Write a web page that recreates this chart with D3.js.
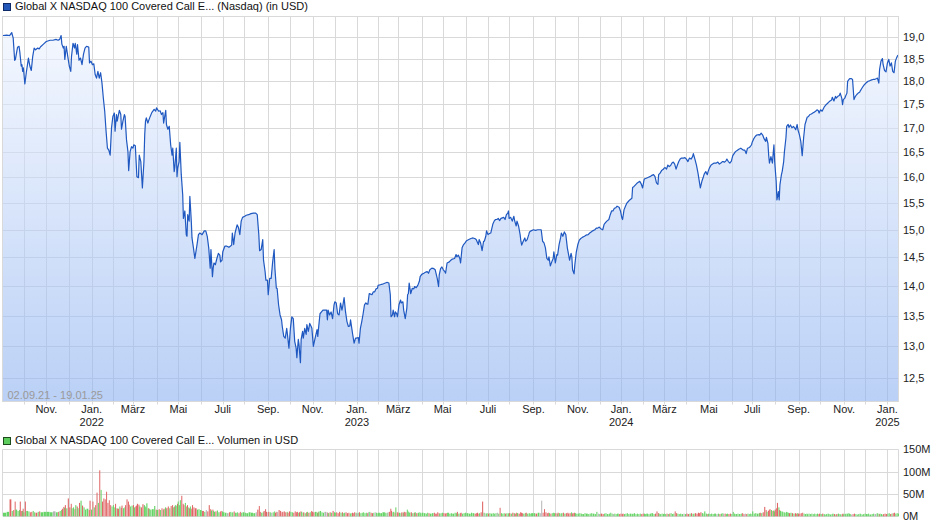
<!DOCTYPE html>
<html><head><meta charset="utf-8">
<script src="https://cdn.jsdelivr.net/npm/d3@7"></script>
<style>
body{margin:0;background:#fff;}
svg{display:block;font-family:"Liberation Sans",Arial,sans-serif;}
</style></head><body>
<svg id="c" width="940" height="526"></svg>
<script>
// ---------------- DATA ----------------
const titleMain = "Global X NASDAQ 100 Covered Call E... (Nasdaq) (in USD)";
const titleVolume = "Global X NASDAQ 100 Covered Call E... Volumen in USD";
const rangeLabel = "02.09.21 - 19.01.25";
const priceTicks = [12.5,13,13.5,14,14.5,15,15.5,16,16.5,17,17.5,18,18.5,19];
const volumeTicks = [0,50,100,150];
const monthNames = ["Jan.","Feb.","März","Apr.","Mai","Juni","Juli","Aug.","Sep.","Okt.","Nov.","Dez."];
const labelledMonths = [0,2,4,6,8,10];
const marketHolidays = ["2021-09-06","2021-11-25","2021-12-24","2022-01-17","2022-02-21","2022-04-15","2022-05-30","2022-06-20","2022-07-04","2022-09-05","2022-11-24","2022-12-26","2023-01-02","2023-01-16","2023-02-20","2023-04-07","2023-05-29","2023-06-19","2023-07-04","2023-09-04","2023-11-23","2023-12-25","2024-01-01","2024-01-15","2024-02-19","2024-03-29","2024-05-27","2024-06-19","2024-07-04","2024-09-02","2024-11-28","2024-12-25","2025-01-01","2025-01-09"];
const firstDay = "2021-09-02", lastDay = "2025-01-17";

const priceDates = [
"2021-09-02","2021-09-07","2021-09-11","2021-09-14","2021-09-16","2021-09-18","2021-09-19","2021-09-22","2021-09-24","2021-09-25","2021-09-27","2021-09-28","2021-09-29","2021-09-30",
"2021-10-02","2021-10-04","2021-10-07","2021-10-09","2021-10-11","2021-10-13","2021-10-15","2021-10-17","2021-10-20","2021-10-22","2021-10-24","2021-10-28",
"2021-11-01","2021-11-06","2021-11-10","2021-11-14","2021-11-17","2021-11-19","2021-11-21","2021-11-22","2021-11-24","2021-11-25","2021-11-26","2021-11-28","2021-11-30",
"2021-12-02","2021-12-04","2021-12-05","2021-12-07","2021-12-09","2021-12-10","2021-12-12","2021-12-13","2021-12-15","2021-12-17","2021-12-19","2021-12-21","2021-12-23","2021-12-25","2021-12-28","2021-12-29","2021-12-31",
"2022-01-02","2022-01-04","2022-01-06","2022-01-08","2022-01-10","2022-01-12","2022-01-14","2022-01-16","2022-01-18","2022-01-20","2022-01-22","2022-01-24","2022-01-26","2022-01-28","2022-01-30",
"2022-02-01","2022-02-03","2022-02-04","2022-02-06","2022-02-07","2022-02-10","2022-02-12","2022-02-13","2022-02-15","2022-02-17","2022-02-18","2022-02-20","2022-02-22","2022-02-23","2022-02-25","2022-02-27",
"2022-03-01","2022-03-02","2022-03-04","2022-03-05","2022-03-06","2022-03-08","2022-03-09","2022-03-11","2022-03-13","2022-03-15","2022-03-16","2022-03-17","2022-03-18","2022-03-20","2022-03-21","2022-03-23","2022-03-25","2022-03-28","2022-03-30","2022-03-31",
"2022-04-03","2022-04-05","2022-04-07","2022-04-09","2022-04-10","2022-04-12","2022-04-13","2022-04-14","2022-04-16","2022-04-18","2022-04-20","2022-04-22","2022-04-23","2022-04-25","2022-04-26","2022-04-28","2022-04-29","2022-04-30",
"2022-05-02","2022-05-03","2022-05-05","2022-05-07","2022-05-08","2022-05-10","2022-05-12","2022-05-13","2022-05-14","2022-05-16","2022-05-17","2022-05-19","2022-05-20","2022-05-22","2022-05-24","2022-05-27","2022-05-29","2022-05-31",
"2022-06-03","2022-06-06","2022-06-08","2022-06-10","2022-06-12","2022-06-14","2022-06-15","2022-06-17","2022-06-18","2022-06-19","2022-06-21","2022-06-23","2022-06-25","2022-06-27","2022-06-28","2022-06-30",
"2022-07-01","2022-07-04","2022-07-07","2022-07-10","2022-07-12","2022-07-14","2022-07-15","2022-07-17","2022-07-19","2022-07-22","2022-07-24","2022-07-26","2022-07-28","2022-07-30",
"2022-08-02","2022-08-04","2022-08-07","2022-08-10","2022-08-13","2022-08-16","2022-08-18","2022-08-20","2022-08-21","2022-08-23","2022-08-25","2022-08-26","2022-08-28","2022-08-29","2022-08-31",
"2022-09-01","2022-09-03","2022-09-05","2022-09-07","2022-09-09","2022-09-10","2022-09-12","2022-09-13","2022-09-15","2022-09-17","2022-09-19","2022-09-20","2022-09-22","2022-09-24","2022-09-26","2022-09-27","2022-09-29",
"2022-10-01","2022-10-03","2022-10-05","2022-10-07","2022-10-09","2022-10-10","2022-10-12","2022-10-13","2022-10-15","2022-10-16","2022-10-18","2022-10-19","2022-10-21","2022-10-23","2022-10-24","2022-10-26","2022-10-28","2022-10-30","2022-10-31",
"2022-11-02","2022-11-04","2022-11-07","2022-11-08","2022-11-09","2022-11-11","2022-11-13","2022-11-15","2022-11-17","2022-11-20","2022-11-21","2022-11-22","2022-11-24","2022-11-26","2022-11-28","2022-11-30",
"2022-12-01","2022-12-03","2022-12-05","2022-12-07","2022-12-09","2022-12-11","2022-12-12","2022-12-14","2022-12-16","2022-12-18","2022-12-20","2022-12-22","2022-12-23","2022-12-25","2022-12-26","2022-12-28","2022-12-30","2022-12-31",
"2023-01-03","2023-01-04","2023-01-06","2023-01-08","2023-01-10","2023-01-12","2023-01-14","2023-01-16","2023-01-17","2023-01-19","2023-01-21","2023-01-23","2023-01-25","2023-01-27","2023-01-29","2023-01-31",
"2023-02-01","2023-02-04","2023-02-07","2023-02-11","2023-02-13","2023-02-14","2023-02-16","2023-02-18","2023-02-19","2023-02-21","2023-02-22","2023-02-24","2023-02-25","2023-02-27","2023-02-28",
"2023-03-02","2023-03-04","2023-03-05","2023-03-07","2023-03-08","2023-03-10","2023-03-12","2023-03-13","2023-03-14","2023-03-15","2023-03-17","2023-03-19","2023-03-21","2023-03-22","2023-03-24","2023-03-26","2023-03-28","2023-03-29","2023-03-31",
"2023-04-03","2023-04-06","2023-04-08","2023-04-10","2023-04-12","2023-04-15","2023-04-18","2023-04-20","2023-04-23","2023-04-25","2023-04-26","2023-04-28","2023-04-30",
"2023-05-02","2023-05-04","2023-05-05","2023-05-07","2023-05-10","2023-05-12","2023-05-14","2023-05-17","2023-05-19","2023-05-20","2023-05-22","2023-05-24","2023-05-25","2023-05-27","2023-05-29","2023-05-31",
"2023-06-02","2023-06-05","2023-06-08","2023-06-10","2023-06-13","2023-06-15","2023-06-16","2023-06-18","2023-06-19","2023-06-21","2023-06-23","2023-06-25","2023-06-26","2023-06-28","2023-06-29",
"2023-07-01","2023-07-03","2023-07-05","2023-07-08","2023-07-10","2023-07-12","2023-07-14","2023-07-16","2023-07-18","2023-07-20","2023-07-22","2023-07-24","2023-07-26","2023-07-28","2023-07-30","2023-07-31",
"2023-08-01","2023-08-03","2023-08-05","2023-08-07","2023-08-08","2023-08-10","2023-08-11","2023-08-13","2023-08-15","2023-08-16","2023-08-17","2023-08-19","2023-08-21","2023-08-22","2023-08-24","2023-08-26","2023-08-27","2023-08-29",
"2023-09-01","2023-09-04","2023-09-07","2023-09-10","2023-09-12","2023-09-14","2023-09-16","2023-09-18","2023-09-20","2023-09-22","2023-09-23","2023-09-25","2023-09-27","2023-09-29","2023-09-30",
"2023-10-02","2023-10-04","2023-10-05","2023-10-07","2023-10-09","2023-10-10","2023-10-12","2023-10-14","2023-10-16","2023-10-18","2023-10-19","2023-10-21","2023-10-23","2023-10-24","2023-10-25","2023-10-27","2023-10-28","2023-10-30",
"2023-11-01","2023-11-03","2023-11-05","2023-11-07","2023-11-10","2023-11-12","2023-11-15","2023-11-17","2023-11-19","2023-11-21","2023-11-24","2023-11-26","2023-11-28","2023-11-30",
"2023-12-02","2023-12-05","2023-12-07","2023-12-09","2023-12-11","2023-12-14","2023-12-16","2023-12-18","2023-12-20","2023-12-22","2023-12-24","2023-12-26","2023-12-29","2023-12-31",
"2024-01-02","2024-01-03","2024-01-05","2024-01-07","2024-01-09","2024-01-11","2024-01-13","2024-01-16","2024-01-17","2024-01-19","2024-01-21","2024-01-23","2024-01-25","2024-01-27","2024-01-29","2024-01-31",
"2024-02-02","2024-02-03","2024-02-05","2024-02-08","2024-02-10","2024-02-12","2024-02-15","2024-02-17","2024-02-19","2024-02-21","2024-02-22","2024-02-24","2024-02-26","2024-02-28","2024-02-29",
"2024-03-02","2024-03-04","2024-03-06","2024-03-08","2024-03-10","2024-03-12","2024-03-14","2024-03-16","2024-03-18","2024-03-20","2024-03-22","2024-03-24","2024-03-26","2024-03-29","2024-03-31",
"2024-04-02","2024-04-04","2024-04-06","2024-04-08","2024-04-10","2024-04-11","2024-04-13","2024-04-15","2024-04-17","2024-04-18","2024-04-20","2024-04-22","2024-04-24","2024-04-25","2024-04-27","2024-04-29","2024-04-30",
"2024-05-02","2024-05-04","2024-05-06","2024-05-08","2024-05-11","2024-05-13","2024-05-15","2024-05-17","2024-05-19","2024-05-20","2024-05-22","2024-05-24","2024-05-25","2024-05-27","2024-05-29","2024-05-31",
"2024-06-02","2024-06-04","2024-06-06","2024-06-09","2024-06-11","2024-06-14","2024-06-16","2024-06-18","2024-06-20","2024-06-22","2024-06-24","2024-06-26","2024-06-28","2024-06-30",
"2024-07-01","2024-07-03","2024-07-05","2024-07-07","2024-07-10","2024-07-11","2024-07-13","2024-07-15","2024-07-17","2024-07-19","2024-07-20","2024-07-22","2024-07-23","2024-07-24","2024-07-26","2024-07-28","2024-07-29","2024-07-30","2024-07-31",
"2024-08-02","2024-08-03","2024-08-05","2024-08-06","2024-08-07","2024-08-09","2024-08-10","2024-08-12","2024-08-13","2024-08-15","2024-08-16","2024-08-18","2024-08-19","2024-08-21","2024-08-23","2024-08-25","2024-08-27","2024-08-28","2024-08-30","2024-08-31",
"2024-09-02","2024-09-04","2024-09-06","2024-09-08","2024-09-10","2024-09-12","2024-09-13","2024-09-15","2024-09-17","2024-09-19","2024-09-21","2024-09-23","2024-09-25","2024-09-27","2024-09-29","2024-09-30",
"2024-10-02","2024-10-04","2024-10-06","2024-10-07","2024-10-09","2024-10-11","2024-10-12","2024-10-14","2024-10-16","2024-10-17","2024-10-19","2024-10-21","2024-10-22","2024-10-24","2024-10-26","2024-10-27","2024-10-29","2024-10-30","2024-10-31",
"2024-11-02","2024-11-03","2024-11-05","2024-11-06","2024-11-08","2024-11-09","2024-11-11","2024-11-13","2024-11-15","2024-11-17","2024-11-19","2024-11-21","2024-11-23","2024-11-24","2024-11-26","2024-11-28","2024-11-30",
"2024-12-02","2024-12-05","2024-12-07","2024-12-10","2024-12-12","2024-12-14","2024-12-17","2024-12-18","2024-12-20","2024-12-21","2024-12-23","2024-12-25","2024-12-26","2024-12-28","2024-12-30",
"2025-01-01","2025-01-03","2025-01-05","2025-01-07","2025-01-09","2025-01-11","2025-01-13","2025-01-15","2025-01-17"
];

const priceValues = [
19.04,19.05,19.04,19.11,18.98,18.47,18.49,18.77,18.79,18.67,18.34,18.37,18.22,18.30,
17.94,18.19,18.52,18.34,18.24,18.56,18.75,18.71,18.75,18.73,18.78,18.84,
18.90,18.93,18.93,18.95,18.93,18.95,19.04,18.84,18.75,18.79,18.49,18.79,18.56,
18.34,18.22,18.56,18.86,18.75,18.86,18.61,18.83,18.47,18.52,18.37,18.61,18.75,18.79,18.77,18.41,18.45,
18.37,18.39,18.15,18.07,18.22,18.07,18.19,17.96,17.63,17.35,16.93,16.58,16.54,16.44,17.00,
17.24,17.31,16.93,17.28,17.14,17.37,17.28,16.97,17.14,17.28,17.24,16.75,16.51,16.13,16.51,16.61,
16.58,16.65,16.63,16.31,16.01,15.99,16.44,16.31,15.79,16.31,16.86,17.14,17.21,17.10,17.15,17.24,17.32,17.39,17.35,17.42,
17.35,17.36,17.28,17.32,17.10,17.28,17.37,17.07,16.97,17.03,16.65,16.44,16.58,16.11,16.21,16.58,16.01,16.18,
16.31,16.70,16.05,15.66,15.21,15.35,14.91,14.88,15.28,15.16,15.63,15.16,14.85,14.67,14.48,14.73,14.91,14.94,
14.91,14.98,14.98,14.88,14.67,14.31,14.64,14.16,14.31,14.40,14.37,14.48,14.57,14.54,14.42,14.45,
14.60,14.70,14.70,14.68,14.70,14.72,14.94,14.73,14.94,15.09,15.04,14.91,15.16,15.23,
15.25,15.27,15.28,15.30,15.31,15.31,15.28,14.91,14.62,14.64,14.82,14.45,14.25,14.10,14.10,
13.85,14.13,14.13,14.42,14.64,14.31,13.96,13.96,13.68,13.51,13.43,13.32,13.16,13.13,13.29,13.19,12.97,
13.29,13.48,13.45,13.08,12.97,12.82,13.11,13.03,12.74,13.11,13.24,13.13,13.29,13.19,13.35,13.24,13.37,13.32,13.29,
13.00,13.11,13.27,13.16,13.29,13.53,13.56,13.59,13.59,13.59,13.43,13.59,13.51,13.56,13.45,13.68,
13.73,13.71,13.53,13.51,13.71,13.59,13.65,13.80,13.56,13.40,13.32,13.33,13.43,13.27,13.19,13.05,13.13,13.13,
13.14,13.05,13.29,13.40,13.53,13.68,13.71,13.69,13.69,13.87,13.86,13.85,13.90,13.90,13.95,13.96,
14.01,14.02,14.03,14.05,14.06,14.06,14.05,13.85,13.48,13.51,13.59,13.48,13.56,13.53,13.48,
13.68,13.76,13.71,13.73,13.59,13.45,13.62,13.85,13.87,14.05,13.87,13.96,13.95,13.99,13.97,14.01,14.08,14.16,14.20,
14.22,14.24,14.25,14.22,14.28,14.31,14.30,14.28,14.13,13.99,14.19,14.30,14.33,
14.28,14.25,14.22,14.40,14.42,14.45,14.47,14.48,14.55,14.51,14.54,14.48,14.40,14.67,14.73,14.76,
14.80,14.82,14.84,14.85,14.84,14.82,14.79,14.73,14.82,14.76,14.62,14.79,14.79,14.88,14.98,
14.91,14.93,14.94,15.10,15.16,15.19,15.19,15.21,15.17,15.21,15.22,15.23,15.19,15.28,15.31,15.35,
15.21,15.23,15.16,15.25,15.17,15.07,15.16,15.07,14.91,14.79,14.72,14.79,14.85,14.79,14.82,14.91,14.96,14.98,
15.00,14.99,15.00,15.00,15.00,14.79,14.76,14.67,14.48,14.45,14.51,14.35,14.42,14.48,14.60,
14.40,14.55,14.54,14.73,14.85,14.94,14.88,14.96,14.91,14.67,14.60,14.45,14.57,14.51,14.28,14.21,14.37,14.60,
14.73,14.81,14.84,14.86,14.88,14.90,14.91,14.94,14.96,14.98,15.00,15.03,15.03,15.05,
15.02,15.00,15.10,15.13,15.16,15.19,15.28,15.35,15.35,15.40,15.41,15.44,15.42,15.35,
15.22,15.19,15.37,15.44,15.50,15.53,15.56,15.59,15.80,15.82,15.85,15.88,15.90,15.92,15.87,15.79,
15.95,15.97,15.98,16.00,16.01,16.03,16.05,16.01,15.89,15.86,16.05,16.08,16.13,16.15,16.17,
16.19,16.16,16.24,16.21,16.23,16.28,16.30,16.26,16.16,16.24,16.31,16.36,16.38,16.38,16.39,
16.36,16.31,16.38,16.36,16.41,16.47,16.36,16.24,16.08,15.98,15.79,15.92,16.01,16.06,16.11,16.05,16.11,
16.19,16.24,16.26,16.28,16.28,16.30,16.26,16.28,16.31,16.31,16.30,16.33,16.36,16.31,16.28,16.32,
16.43,16.47,16.51,16.54,16.56,16.58,16.56,16.54,16.54,16.47,16.58,16.59,16.61,16.65,
16.70,16.77,16.82,16.85,16.86,16.85,16.89,16.85,16.77,16.72,16.80,16.68,16.44,16.28,16.41,16.28,16.47,16.65,16.31,
15.92,15.56,15.72,15.56,15.85,16.05,16.11,16.31,16.51,16.79,17.03,17.07,17.01,17.06,17.00,17.03,16.99,16.96,17.07,16.96,
16.86,16.72,16.43,16.79,17.07,17.17,17.22,17.24,17.28,17.29,17.31,17.33,17.35,17.38,17.36,17.31,
17.38,17.35,17.42,17.45,17.49,17.52,17.54,17.57,17.59,17.65,17.57,17.67,17.63,17.67,17.69,17.74,17.63,17.49,17.60,
17.63,17.67,17.74,18.00,18.04,18.06,18.06,18.04,17.60,17.67,17.71,17.74,17.76,17.79,17.84,17.89,17.93,
17.96,18.00,18.01,18.03,18.04,18.04,18.06,18.07,17.96,18.26,18.45,18.51,18.37,18.24,18.21,
18.41,18.49,18.34,18.41,18.22,18.19,18.45,18.53,18.59
];

// volume in million USD, one value per price date
const volumeValues = [
8,10,38,12,14,33,15,12,14,33,12,12,17,9,
33,12,11,9,10,12,9,8,10,11,9,10,
10,9,11,9,10,12,14,17,21,19,25,18,40,
20,28,18,20,16,25,22,18,30,35,24,20,15,17,14,35,15,
33,20,25,53,30,103,59,33,40,38,55,30,36,25,22,
25,20,28,18,17,22,19,24,18,20,25,38,33,26,22,24,
25,20,22,24,28,26,22,20,27,25,22,20,29,18,17,15,16,23,15,14,
16,14,18,15,17,20,16,19,22,18,23,25,20,22,25,24,28,33,
25,36,46,28,25,30,22,25,20,18,22,17,25,20,18,15,16,14,
12,10,14,11,25,16,13,15,12,10,11,13,9,10,12,11,
9,8,7,9,10,8,9,11,8,9,7,10,8,9,
8,7,9,8,7,9,15,23,10,8,9,12,16,10,9,
10,9,8,9,11,8,10,9,14,12,9,10,11,9,10,8,11,
10,9,8,11,9,10,8,9,11,10,8,9,7,9,10,8,9,12,10,
9,10,8,9,11,12,9,8,10,9,8,7,9,8,12,9,
8,9,7,10,8,9,7,8,9,7,8,6,7,8,7,9,8,7,
8,9,7,8,9,7,8,7,9,10,8,7,8,9,8,7,
8,7,9,8,7,9,10,17,12,9,10,8,20,9,8,
8,7,9,8,10,9,15,11,9,8,9,7,8,9,7,8,9,7,8,
7,6,8,7,6,7,8,6,9,7,6,7,8,
7,6,7,8,6,7,6,8,7,10,6,7,8,6,7,8,
7,6,8,7,6,7,8,6,7,9,33,8,7,6,7,
6,7,6,7,6,7,8,6,19,7,6,7,6,7,6,7,
7,6,8,7,6,8,7,6,9,8,7,6,7,8,6,7,6,7,
7,6,8,7,35,8,16,9,7,8,7,6,7,8,7,
7,6,8,7,6,7,8,6,7,8,6,7,9,6,7,8,7,6,
6,7,6,5,7,6,5,6,7,6,5,10,6,5,
6,5,6,7,5,6,8,6,5,6,5,6,5,6,
5,6,5,6,7,5,6,5,6,7,5,6,5,6,5,6,
6,5,6,5,6,7,5,6,11,7,6,5,6,5,6,
5,6,5,6,7,5,6,11,7,6,5,6,5,6,5,
6,5,6,7,5,6,7,6,8,7,9,7,6,11,6,5,6,
5,6,5,6,5,6,5,6,7,5,6,5,6,5,6,5,
10,6,5,6,5,6,7,5,6,5,6,5,6,5,
11,6,7,6,7,8,7,9,21,14,10,12,14,16,14,12,13,11,15,
18,30,20,14,12,11,10,9,8,10,9,8,7,8,7,6,7,6,7,6,
6,7,8,6,5,6,5,6,5,6,5,6,5,6,5,6,
5,6,5,4,5,6,5,4,5,6,5,4,5,6,5,4,5,6,5,
5,6,5,7,6,5,4,5,6,5,4,5,6,5,4,5,6,
5,6,4,5,6,5,7,6,5,6,5,4,5,6,5,
6,7,5,6,7,8,6,7,6
];

// ---------------- CHART ----------------
const parse = d3.utcParse("%Y-%m-%d");
const fmt = d3.utcFormat("%Y-%m-%d");
const n = Math.min(priceDates.length, priceValues.length, volumeValues.length);
const data = d3.range(n).map(i => ({date: parse(priceDates[i]), value: priceValues[i], vol: volumeValues[i]}));

const L = 3, R = 898;
const mainTop = 16.5, mainBottom = 401.5;
const volTop = 449.3, volBottom = 516.3;

const holidaySet = new Set(marketHolidays);
const start = parse(firstDay), end = parse(lastDay);
function tradingIndex(d) {
  let k = 0;
  for (let t = start; t < d; t = d3.utcDay.offset(t, 1)) {
    const wd = t.getUTCDay();
    if (wd !== 0 && wd !== 6 && !holidaySet.has(fmt(t))) k++;
  }
  return k;
}
const monthStarts = d3.utcMonths(parse("2021-10-01"), d3.utcDay.offset(end, 1));
const breakpoints = [start, ...monthStarts, end];
const idxScale = d3.scaleLinear().domain([0, tradingIndex(end)]).range([L, R]);
const x = d3.scaleUtc().domain(breakpoints).range(breakpoints.map(d => idxScale(tradingIndex(d))));

const y = d3.scaleLog().domain([12.148, 19.49]).range([mainBottom, mainTop]);
const yv = d3.scaleLinear().domain([0, 150]).range([volBottom, volTop]);

const svg = d3.select("#c");
const defs = svg.append("defs");
const grad = defs.append("linearGradient").attr("id", "ag")
  .attr("gradientUnits", "userSpaceOnUse").attr("x1", 0).attr("x2", 0)
  .attr("y1", mainTop).attr("y2", mainBottom);
grad.append("stop").attr("offset", 0).attr("stop-color", "rgb(240,245,255)");
grad.append("stop").attr("offset", 1).attr("stop-color", "rgb(140,177,240)");
defs.append("clipPath").attr("id", "clipMain").append("rect")
  .attr("x", L).attr("y", mainTop).attr("width", R - L).attr("height", mainBottom - mainTop);

const gridColor = "#d9d9d9";
const crisp = v => Math.round(v) + 0.5;

// ---- main panel grid
const gMain = svg.append("g");
gMain.append("g").selectAll("line").data(priceTicks).join("line")
  .attr("x1", L).attr("x2", R).attr("y1", d => crisp(y(d))).attr("y2", d => crisp(y(d)))
  .attr("stroke", gridColor).attr("stroke-width", 1);
gMain.append("g").selectAll("line").data(monthStarts).join("line")
  .attr("x1", d => crisp(x(d))).attr("x2", d => crisp(x(d)))
  .attr("y1", mainTop).attr("y2", mainBottom + 3)
  .attr("stroke", gridColor).attr("stroke-width", 1);

// ---- area + line
const area = d3.area().x(d => x(d.date)).y0(mainBottom).y1(d => y(d.value));
const line = d3.line().x(d => x(d.date)).y(d => y(d.value));
gMain.append("path").datum(data).attr("d", area)
  .attr("fill", "url(#ag)").attr("fill-opacity", 0.6).attr("clip-path", "url(#clipMain)");
gMain.append("path").datum(data).attr("d", line)
  .attr("fill", "none").attr("stroke", "#1f58c0").attr("stroke-width", 1.2)
  .attr("stroke-linejoin", "round").attr("clip-path", "url(#clipMain)");

// frame
gMain.append("rect").attr("x", 2.5).attr("y", mainTop).attr("width", R - 2.5 + 0.5).attr("height", mainBottom - mainTop)
  .attr("fill", "none").attr("stroke", gridColor);

// right axis labels
svg.append("g").selectAll("text").data(priceTicks).join("text")
  .attr("x", 903).attr("y", d => y(d) + 4)
  .attr("font-size", 11).attr("fill", "#222")
  .text(d => d3.format(".1f")(d).replace(".", ","));

// month labels
const labelled = monthStarts.filter(d => labelledMonths.includes(d.getUTCMonth()));
const gx = svg.append("g").attr("font-size", 11).attr("fill", "#222").attr("text-anchor", "middle");
gx.selectAll("text.m").data(labelled).join("text").attr("class", "m")
  .attr("x", d => x(d)).attr("y", 413.3).text(d => monthNames[d.getUTCMonth()]);
gx.selectAll("text.yr").data(labelled.filter(d => d.getUTCMonth() === 0)).join("text").attr("class", "yr")
  .attr("x", d => x(d)).attr("y", 425.7).text(d => d.getUTCFullYear());

// range label
svg.append("text").attr("x", 7.5).attr("y", 399).attr("font-size", 11).attr("fill", "#9a9a9a").text(rangeLabel);

// title main
svg.append("rect").attr("x", 3.5).attr("y", 3.5).attr("width", 7).attr("height", 7)
  .attr("fill", "#2357b8").attr("stroke", "#0d2a66");
svg.append("text").attr("x", 15).attr("y", 10).attr("font-size", 11).attr("fill", "#111").text(titleMain);

// ---- volume panel
const gVol = svg.append("g");
gVol.append("g").selectAll("line").data(volumeTicks).join("line")
  .attr("x1", L).attr("x2", R).attr("y1", d => crisp(yv(d))).attr("y2", d => crisp(yv(d)))
  .attr("stroke", gridColor);
gVol.append("g").selectAll("line").data(monthStarts).join("line")
  .attr("x1", d => crisp(x(d))).attr("x2", d => crisp(x(d)))
  .attr("y1", volTop).attr("y2", volBottom)
  .attr("stroke", gridColor);
gVol.append("line").attr("x1", 2.5).attr("x2", 2.5).attr("y1", volTop).attr("y2", volBottom).attr("stroke", gridColor);
gVol.append("line").attr("x1", R + 0.5).attr("x2", R + 0.5).attr("y1", volTop).attr("y2", volBottom).attr("stroke", gridColor);

gVol.append("g").selectAll("rect").data(data).join("rect")
  .attr("x", d => x(d.date))
  .attr("width", (d, i) => {
    const nx = i < data.length - 1 ? x(data[i + 1].date) : R;
    return Math.max(1, nx - x(d.date) - 0.4);
  })
  .attr("y", d => yv(d.vol))
  .attr("height", d => volBottom - yv(d.vol))
  .attr("fill", (d, i) => {
    if (i === 0) return "#66d466";
    const p = data[i - 1].value;
    return d.value > p ? "#66d466" : (d.value < p ? "#e06666" : "#b5b5b5");
  });

svg.append("g").selectAll("text").data(volumeTicks).join("text")
  .attr("x", 903).attr("y", d => yv(d) + 4)
  .attr("font-size", 11).attr("fill", "#222")
  .text(d => d + "M");

svg.append("rect").attr("x", 3.5).attr("y", 437.5).attr("width", 7).attr("height", 7)
  .attr("fill", "#5ccc5c").attr("stroke", "#1d4a1d");
svg.append("text").attr("x", 15).attr("y", 444).attr("font-size", 11).attr("fill", "#111").text(titleVolume);
</script>
</body></html>
